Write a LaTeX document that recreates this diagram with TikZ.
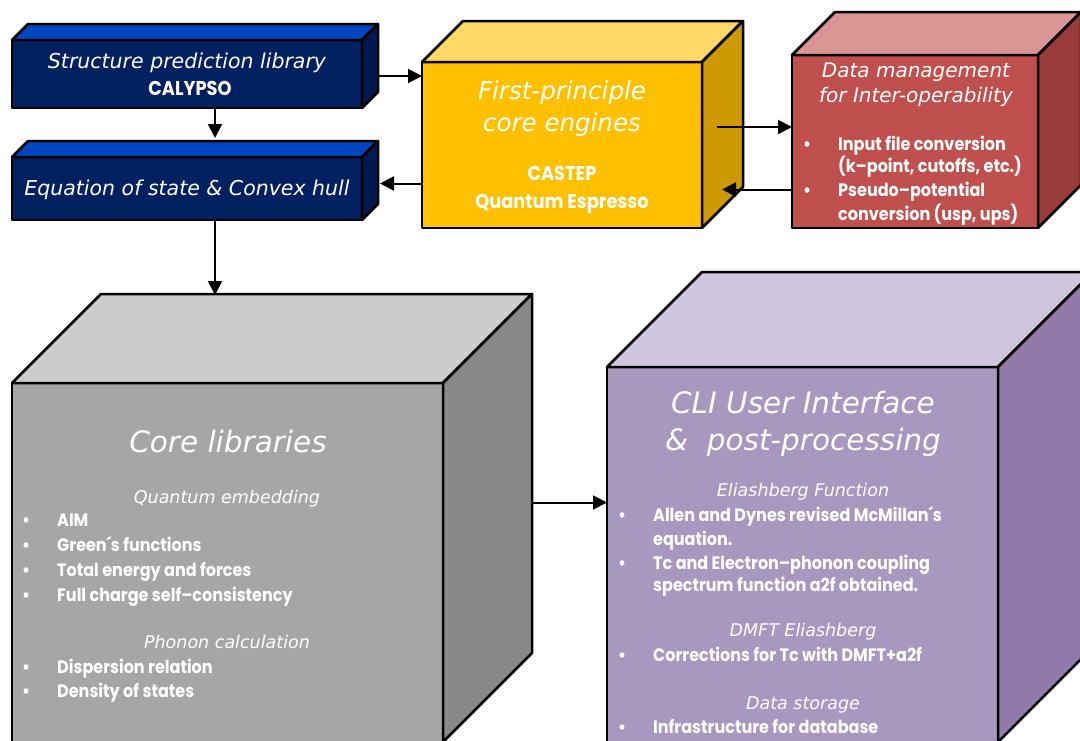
\documentclass[tikz,border=0pt]{standalone}
\usepackage{fontspec}
\setmainfont{DejaVu Sans}
\newfontfamily\listfont{Poppins}[FakeStretch=0.89]
\usepackage{tikz}
\usetikzlibrary{calc}
\usetikzlibrary{arrows.meta}

\definecolor{blueF}{RGB}{0,32,96}
\definecolor{blueT}{RGB}{0,70,192}
\definecolor{blueS}{RGB}{0,26,80}
\definecolor{yellowF}{RGB}{255,192,0}
\definecolor{yellowT}{RGB}{255,217,102}
\definecolor{yellowS}{RGB}{204,154,0}
\definecolor{redF}{RGB}{192,80,77}
\definecolor{redT}{RGB}{217,150,148}
\definecolor{redS}{RGB}{154,60,57}
\definecolor{grayF}{RGB}{166,166,166}
\definecolor{grayT}{RGB}{204,204,204}
\definecolor{grayS}{RGB}{136,136,136}
\definecolor{violetF}{RGB}{168,151,190}
\definecolor{violetT}{RGB}{207,197,220}
\definecolor{violetS}{RGB}{143,122,170}

\tikzset{
  front/.style={draw, line width=2.5pt, line join=round, inner sep=0pt, outer sep=0pt},
  face/.style={draw, line width=2.5pt, line join=round},
  arr/.style={line width=2pt, -{Triangle[length=14pt,width=14pt]}},
  txt/.style={text=white, inner sep=0pt, text depth=0pt},
  head/.style={txt, font=\itshape\fontsize{20.5}{20.5}\selectfont, text height=15pt},
  datahead/.style={txt, font=\itshape\fontsize{20}{20}\selectfont, text height=14.5pt},
  subhead/.style={txt, font=\itshape\fontsize{17.5}{17.5}\selectfont, text height=12.5pt},
  enginehead/.style={txt, font=\itshape\fontsize{24.5}{24.5}\selectfont, text height=18pt},
  bighead/.style={txt, font=\itshape\fontsize{29.5}{29.5}\selectfont, text height=21.5pt},
  code/.style={txt, font=\listfont\bfseries\fontsize{20}{20}\selectfont, text height=14pt},
  item/.style={txt, anchor=west, font=\listfont\bfseries\fontsize{18}{18}\selectfont, text height=12.5pt}
}

% bullet hanging left of an item line
\newcommand{\bul}{\llap{\textbullet\hspace{27pt}}}
% top and side faces behind the front face #1, depth #2
\newcommand{\boxback}[4]{%
  \draw[face, fill=#3] (#1.north west) -- ++(#2,-#2) -- ($(#1.north east)+(#2,-#2)$) -- (#1.north east) -- cycle;
  \draw[face, fill=#4] (#1.north east) -- ++(#2,-#2) -- ($(#1.south east)+(#2,-#2)$) -- (#1.south east) -- cycle;
}

\begin{document}
\begin{tikzpicture}[x=1pt,y=-1pt]
\useasboundingbox (0,0) rectangle (1080,740);
\clip (0,0) rectangle (1080,740);

% boxes
\node (struct) at (187,74) [front, fill=blueF, minimum width=350pt, minimum height=68pt] {};
\boxback{struct}{16}{blueT}{blueS}
\node (eos) at (187,188.5) [front, fill=blueF, minimum width=350pt, minimum height=63pt] {};
\boxback{eos}{16}{blueT}{blueS}
\node (engine) at (562,145) [front, fill=yellowF, minimum width=280pt, minimum height=166pt] {};
\boxback{engine}{41}{yellowT}{yellowS}
\node (data) at (915,141.5) [front, fill=redF, minimum width=246pt, minimum height=173pt] {};
\boxback{data}{43}{redT}{redS}
\node (core) at (227.5,562.5) [front, fill=grayF, minimum width=431pt, minimum height=359pt] {};
\boxback{core}{89}{grayT}{grayS}
\node (cli) at (802.5,554.5) [front, fill=violetF, minimum width=391pt, minimum height=375pt] {};
\boxback{cli}{95}{violetT}{violetS}

% texts
\node (t1) at (187,61) [head] {Structure prediction library};
\node (t2) at (190,88) [code] {CALYPSO};
\node (t3) at (187,188) [head] {Equation of state \& Convex hull};

\node (t4) at (562,90) [enginehead] {First-principle};
\node (t5) at (562,122) [enginehead] {core engines};
\node (t6) at (562,173) [code] {CASTEP};
\node (t7) at (562,201) [code] {Quantum Espresso};

\node (t8) at (916,70) [datahead] {Data management};
\node (t9) at (916,95) [datahead] {for Inter-operability};
\node (d1) at (838,144) [item] {\bul Input file conversion};
\node (d2) at (838,166) [item] {(k–point, cutoffs, etc.)};
\node (d3) at (838,190) [item] {\bul Pseudo–potential};
\node (d4) at (838,214) [item] {conversion (usp, ups)};

\node (t10) at (228,442) [bighead] {Core libraries};
\node (t11) at (227,497) [subhead] {Quantum embedding};
\node (c1) at (57,520) [item] {\bul AIM};
\node (c2) at (57,545) [item] {\bul Green´s functions};
\node (c3) at (57,570) [item] {\bul Total energy and forces};
\node (c4) at (57,595) [item] {\bul Full charge self–consistency};
\node (t12) at (227,642) [subhead] {Phonon calculation};
\node (c5) at (57,667) [item] {\bul Dispersion relation};
\node (c6) at (57,691) [item] {\bul Density of states};

\node (t13) at (803,403) [bighead] {CLI User Interface};
\node (t14) at (803,440) [bighead] {\&\ \ post-processing};
\node (t15) at (803,490) [subhead] {Eliashberg Function};
\node (u1) at (653,515) [item] {\bul Allen and Dynes revised McMillan´s};
\node (u2) at (653,539) [item] {equation.};
\node (u3) at (653,563) [item] {\bul Tc and Electron–phonon coupling};
\node (u4) at (653,585) [item] {spectrum function a2f obtained.};
\node (t16) at (803,630) [subhead] {DMFT Eliashberg};
\node (u5) at (653,655) [item] {\bul Corrections for Tc with DMFT+a2f};
\node (t17) at (803,703) [subhead] {Data storage};
\node (u6) at (653,727) [item] {\bul Infrastructure for database};

% connectors
\coordinate (down1) at ($(struct.south)+(28,0)$);
\coordinate (down2) at ($(eos.south)+(28,0)$);
\coordinate (right1) at ($(struct.east)+(16,2)$);
\coordinate (left1) at ($(eos.east)+(18,-5)$);
\coordinate (right2) at ($(engine.east)+(15,-18)$);
\coordinate (left2) at ($(data.west)+(0,48)$);
\coordinate (right3) at ($(core.east)+(89,-60)$);
\draw [arr] (down1) -- ($(down1 |- eos.north)+(0,-19)$);
\draw [arr] (right1) -- (right1 -| engine.west);
\draw [arr] (left1 -| engine.west) -- (left1);
\draw [arr] (right2) -- (right2 -| data.west);
\draw [arr] (left2) -- ($(left2 -| engine.east)+(20,0)$);
\draw [arr] (down2) -- ($(down2 |- core.north)+(0,-88)$);
\draw [arr] (right3) -- (right3 -| cli.west);
\end{tikzpicture}
\end{document}
